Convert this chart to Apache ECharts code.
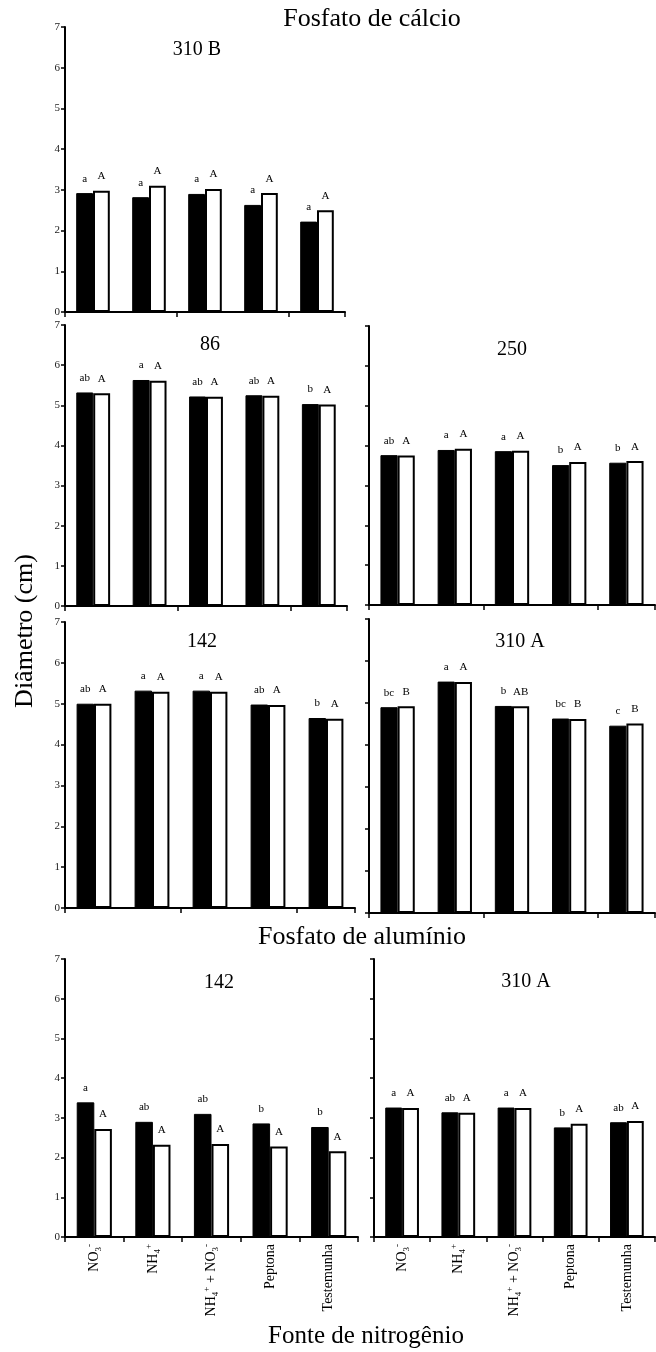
<!DOCTYPE html>
<html><head><meta charset="utf-8">
<script src="https://cdn.jsdelivr.net/npm/echarts@6/dist/echarts.min.js"></script>
<style>html,body{margin:0;padding:0;background:#fff}#c{width:656px;height:1352px}</style>
</head><body><div id="c"></div>
<script>
// ---- data ----
const categories = ['NO3-', 'NH4+', 'NH4+ + NO3-', 'Peptona', 'Testemunha'];
const yTickMin = 0, yTickMax = 7, yTickStep = 1;

// Fosfato de cálcio
const ca310B_black = [2.92, 2.82, 2.90, 2.63, 2.22];
const ca310B_white = [2.98, 3.10, 3.02, 2.92, 2.50];
const ca310B_low   = ['a', 'a', 'a', 'a', 'a'];
const ca310B_up    = ['A', 'A', 'A', 'A', 'A'];

const ca86_black = [5.32, 5.63, 5.22, 5.25, 5.03];
const ca86_white = [5.30, 5.61, 5.21, 5.24, 5.02];
const ca86_low   = ['ab', 'a', 'ab', 'ab', 'b'];
const ca86_up    = ['A', 'A', 'A', 'A', 'A'];

const ca250_black = [3.76, 3.89, 3.86, 3.51, 3.57];
const ca250_white = [3.75, 3.92, 3.87, 3.59, 3.61];
const ca250_low   = ['ab', 'a', 'a', 'b', 'b'];
const ca250_up    = ['A', 'A', 'A', 'A', 'A'];

const ca142_black = [5.00, 5.32, 5.32, 4.98, 4.65];
const ca142_white = [5.00, 5.29, 5.29, 4.97, 4.63];
const ca142_low   = ['ab', 'a', 'a', 'ab', 'b'];
const ca142_up    = ['A', 'A', 'A', 'A', 'A'];

const ca310A_black = [4.90, 5.51, 4.93, 4.63, 4.46];
const ca310A_white = [4.92, 5.50, 4.92, 4.62, 4.51];
const ca310A_low   = ['bc', 'a', 'b', 'bc', 'c'];
const ca310A_up    = ['B', 'A', 'AB', 'B', 'B'];

// Fosfato de alumínio
const al142_black = [3.39, 2.90, 3.10, 2.86, 2.77];
const al142_white = [2.72, 2.32, 2.34, 2.28, 2.16];
const al142_low   = ['a', 'ab', 'ab', 'b', 'b'];
const al142_up    = ['A', 'A', 'A', 'A', 'A'];

const al310A_black = [3.26, 3.14, 3.26, 2.76, 2.89];
const al310A_white = [3.25, 3.13, 3.25, 2.85, 2.92];
const al310A_low   = ['a', 'ab', 'a', 'b', 'ab'];
const al310A_up    = ['A', 'A', 'A', 'A', 'A'];

// ---- layout / styling ----
const SERIF = '"Liberation Serif", "DejaVu Serif", serif';
const panels = [
  {name: '310 B', black: ca310B_black, white: ca310B_white, low: ca310B_low, up: ca310B_up,
   grid: {left: 65, top: 27, width: 280, height: 285}, yLabels: true, xLabels: false, tx: 197, ty: 50},
  {name: '86', black: ca86_black, white: ca86_white, low: ca86_low, up: ca86_up,
   grid: {left: 65, top: 325, width: 282, height: 281}, yLabels: true, xLabels: false, tx: 210, ty: 345},
  {name: '250', black: ca250_black, white: ca250_white, low: ca250_low, up: ca250_up,
   grid: {left: 369, top: 326, width: 286, height: 279}, yLabels: false, xLabels: false, tx: 512, ty: 350},
  {name: '142', black: ca142_black, white: ca142_white, low: ca142_low, up: ca142_up,
   grid: {left: 65, top: 622, width: 290, height: 286}, yLabels: true, xLabels: false, tx: 202, ty: 642},
  {name: '310 A', black: ca310A_black, white: ca310A_white, low: ca310A_low, up: ca310A_up,
   grid: {left: 369, top: 619, width: 286, height: 294}, yLabels: false, xLabels: false, tx: 520, ty: 642},
  {name: '142', black: al142_black, white: al142_white, low: al142_low, up: al142_up,
   grid: {left: 65, top: 959, width: 293, height: 278}, yLabels: true, xLabels: true, tx: 219, ty: 983},
  {name: '310 A', black: al310A_black, white: al310A_white, low: al310A_low, up: al310A_up,
   grid: {left: 374, top: 959, width: 281, height: 278}, yLabels: false, xLabels: true, tx: 526, ty: 982}
];

const richCat = {
  'NO3-': 'NO{sub|3}{sup|-}',
  'NH4+': 'NH{sub|4}{sup|+}',
  'NH4+ + NO3-': 'NH{sub|4}{sup|+} + NO{sub|3}{sup|-}',
  'Peptona': 'Peptona',
  'Testemunha': 'Testemunha'
};

const grids = [], xAxes = [], yAxes = [], series = [], graphics = [];
panels.forEach((p, i) => {
  grids.push(Object.assign({containLabel: false}, p.grid));
  xAxes.push({
    type: 'category', gridIndex: i, data: categories,
    axisLine: {show: true, lineStyle: {color: '#000', width: 2}},
    axisTick: {show: true, length: 5, alignWithLabel: false, lineStyle: {color: '#000', width: 1.5}},
    axisLabel: p.xLabels ? {
      show: true, rotate: 90, margin: 7, interval: 0,
      fontFamily: SERIF, fontSize: 14, color: '#000',
      formatter: v => richCat[v] || v,
      rich: {
        sub: {fontFamily: SERIF, fontSize: 9, color: '#000', lineHeight: 18, verticalAlign: 'bottom'},
        sup: {fontFamily: SERIF, fontSize: 9, color: '#000', lineHeight: 18, verticalAlign: 'top'}
      }
    } : {show: false},
    splitLine: {show: false}
  });
  yAxes.push({
    type: 'value', gridIndex: i, min: yTickMin, max: yTickMax, interval: yTickStep,
    axisLine: {show: true, lineStyle: {color: '#000', width: 2}},
    axisTick: {show: true, length: 4, lineStyle: {color: '#000', width: 1.5}},
    axisLabel: p.yLabels ? {show: true, margin: 5, fontFamily: SERIF, fontSize: 11, color: '#222'} : {show: false},
    splitLine: {show: false}
  });
  const lbl = (arr) => ({
    show: true, position: 'top', distance: 9,
    fontFamily: SERIF, fontSize: 11, color: '#000',
    formatter: q => arr[q.dataIndex]
  });
  series.push({
    type: 'bar', name: 'Preto', xAxisIndex: i, yAxisIndex: i, data: p.black,
    barGap: '0%', barCategoryGap: '40%',
    itemStyle: {color: '#000', borderColor: '#000', borderWidth: 1},
    label: lbl(p.low), silent: true
  });
  series.push({
    type: 'bar', name: 'Branco', xAxisIndex: i, yAxisIndex: i, data: p.white,
    barGap: '0%', barCategoryGap: '40%',
    itemStyle: {color: '#fff', borderColor: '#000', borderWidth: 2},
    label: lbl(p.up), silent: true
  });
  graphics.push({type: 'text', x: p.tx, y: p.ty,
    style: {text: p.name, font: '20px ' + SERIF, fill: '#000', textAlign: 'center', textVerticalAlign: 'middle'}});
});

graphics.push({type: 'text', x: 372, y: 19,
  style: {text: 'Fosfato de cálcio', font: '26px ' + SERIF, fill: '#000', textAlign: 'center', textVerticalAlign: 'middle'}});
graphics.push({type: 'text', x: 362, y: 937,
  style: {text: 'Fosfato de alumínio', font: '26px ' + SERIF, fill: '#000', textAlign: 'center', textVerticalAlign: 'middle'}});
graphics.push({type: 'text', x: 25, y: 631, rotation: Math.PI / 2,
  style: {text: 'Diâmetro (cm)', font: '26px ' + SERIF, fill: '#000', textAlign: 'center', textVerticalAlign: 'middle'}});
graphics.push({type: 'text', x: 366, y: 1336,
  style: {text: 'Fonte de nitrogênio', font: '25px ' + SERIF, fill: '#000', textAlign: 'center', textVerticalAlign: 'middle'}});

const chart = echarts.init(document.getElementById('c'), null, {renderer: 'canvas'});
chart.setOption({
  animation: false,
  backgroundColor: '#fff',
  grid: grids, xAxis: xAxes, yAxis: yAxes, series: series,
  graphic: graphics
});
</script>
</body></html>
